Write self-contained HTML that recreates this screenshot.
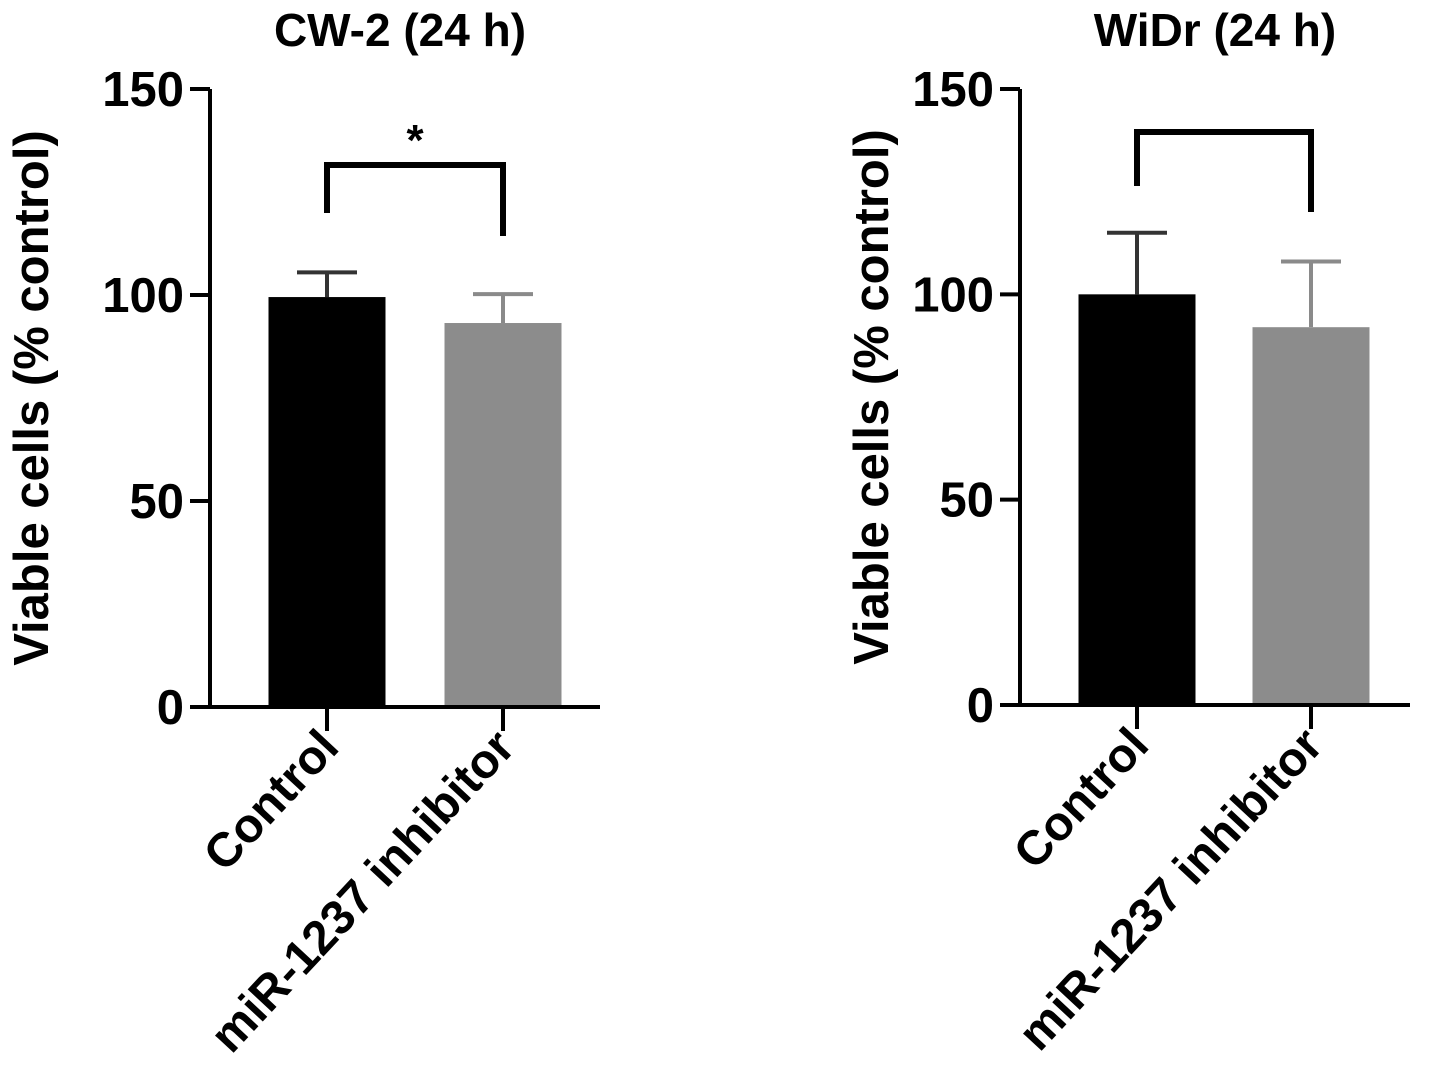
<!DOCTYPE html>
<html><head><meta charset="utf-8"><style>
html,body{margin:0;padding:0;background:#fff;}
svg{display:block;font-family:"Liberation Sans",Arial,sans-serif;font-weight:bold;}
</style></head><body>
<svg id="chart" width="1441" height="1074" viewBox="0 0 1441 1074"></svg>
<script>
const categories = ["Control", "miR-1237 inhibitor"];
const cw2Means = [99.5, 93.2];
const cw2Errors = [6, 7];
const widrMeans = [100, 92];
const widrErrors = [15, 16];
const yTicks = [0, 50, 100, 150];
const titles = ["CW-2 (24 h)", "WiDr (24 h)"];
const sigLabels = ["*", ""];

const NS = "http://www.w3.org/2000/svg";
const svg = document.getElementById("chart");
function mk(tag, attrs, parent) {
  const e = document.createElementNS(NS, tag);
  for (const k in attrs) e.setAttribute(k, attrs[k]);
  (parent || svg).appendChild(e);
  return e;
}
const panels = [
  {x0: 210, xEnd: 600, y0: 707, yTop: 89, means: cw2Means, errs: cw2Errors, title: titles[0], sig: sigLabels[0], bracketY: 165, legs: [213, 236], cx: [327, 503], titleX: 400, ylabX: 48},
  {x0: 1020, xEnd: 1410, y0: 705, yTop: 89, means: widrMeans, errs: widrErrors, title: titles[1], sig: sigLabels[1], bracketY: 132, legs: [186, 212], cx: [1137, 1311], titleX: 1215, ylabX: 888}
];
const colors = ["#000", "#8c8c8c"];
const errColors = ["#333", "#8a8a8a"];
panels.forEach((p, pi) => {
  const g = mk("g", {});
  
  
  const yS = v => p.y0 - (v / 150) * (p.y0 - p.yTop);
  const t = mk("text", {x: p.titleX, y: 46, "text-anchor": "middle", "font-size": 46}, g);
  t.textContent = p.title;
  
  
  const yl = mk("text", {transform: `translate(${p.ylabX},${(p.y0 + p.yTop) / 2}) rotate(-90)`, "text-anchor": "middle", "font-size": 49}, g);
  yl.textContent = "Viable cells (% control)";
  
  
  p.means.forEach((m, i) => {
    const bw = 117;
    const r = mk("rect", {x: p.cx[i] - bw / 2, y: yS(m), width: bw, height: p.y0 - yS(m), fill: colors[i]}, g);
    
    
    const ey = yS(m + p.errs[i]);
    const el = mk("path", {d: `M${p.cx[i]},${yS(m)}V${ey}M${p.cx[i] - 30},${ey}H${p.cx[i] + 30}`, stroke: errColors[i], "stroke-width": 4, fill: "none"}, g);
    
    
    const tk = mk("line", {x1: p.cx[i], x2: p.cx[i], y1: p.y0, y2: p.y0 + 24, stroke: "#000", "stroke-width": 4}, g);
    
    
    const lx = p.cx[i] + 14, ly = p.y0 + 42;
    const lab = mk("text", {transform: `translate(${lx},${ly}) rotate(-47)`, "text-anchor": "end", "font-size": 48}, g);
    lab.textContent = categories[i];
    
    
  });
  const ax = mk("path", {d: `M${p.x0},${p.yTop}V${p.y0}H${p.xEnd}`, stroke: "#000", "stroke-width": 4, fill: "none"}, g);
  
  
  yTicks.forEach(v => {
    const tl = mk("line", {x1: p.x0 - 20, x2: p.x0, y1: yS(v), y2: yS(v), stroke: "#000", "stroke-width": 4}, g);
    
    
    const tx = mk("text", {x: p.x0 - 26, y: yS(v) + 17, "text-anchor": "end", "font-size": 49}, g);
    tx.textContent = v;
    
    
  });
  const br = mk("path", {d: `M${p.cx[0]},${p.legs[0]}V${p.bracketY}H${p.cx[1]}V${p.legs[1]}`, stroke: "#000", "stroke-width": 6, fill: "none"}, g);
  
  
  if (p.sig) {
    const s = mk("text", {x: (p.cx[0] + p.cx[1]) / 2, y: p.bracketY - 10, "text-anchor": "middle", "font-size": 44}, g);
    s.textContent = p.sig;
    
    
  }
});
</script>
</body></html>
